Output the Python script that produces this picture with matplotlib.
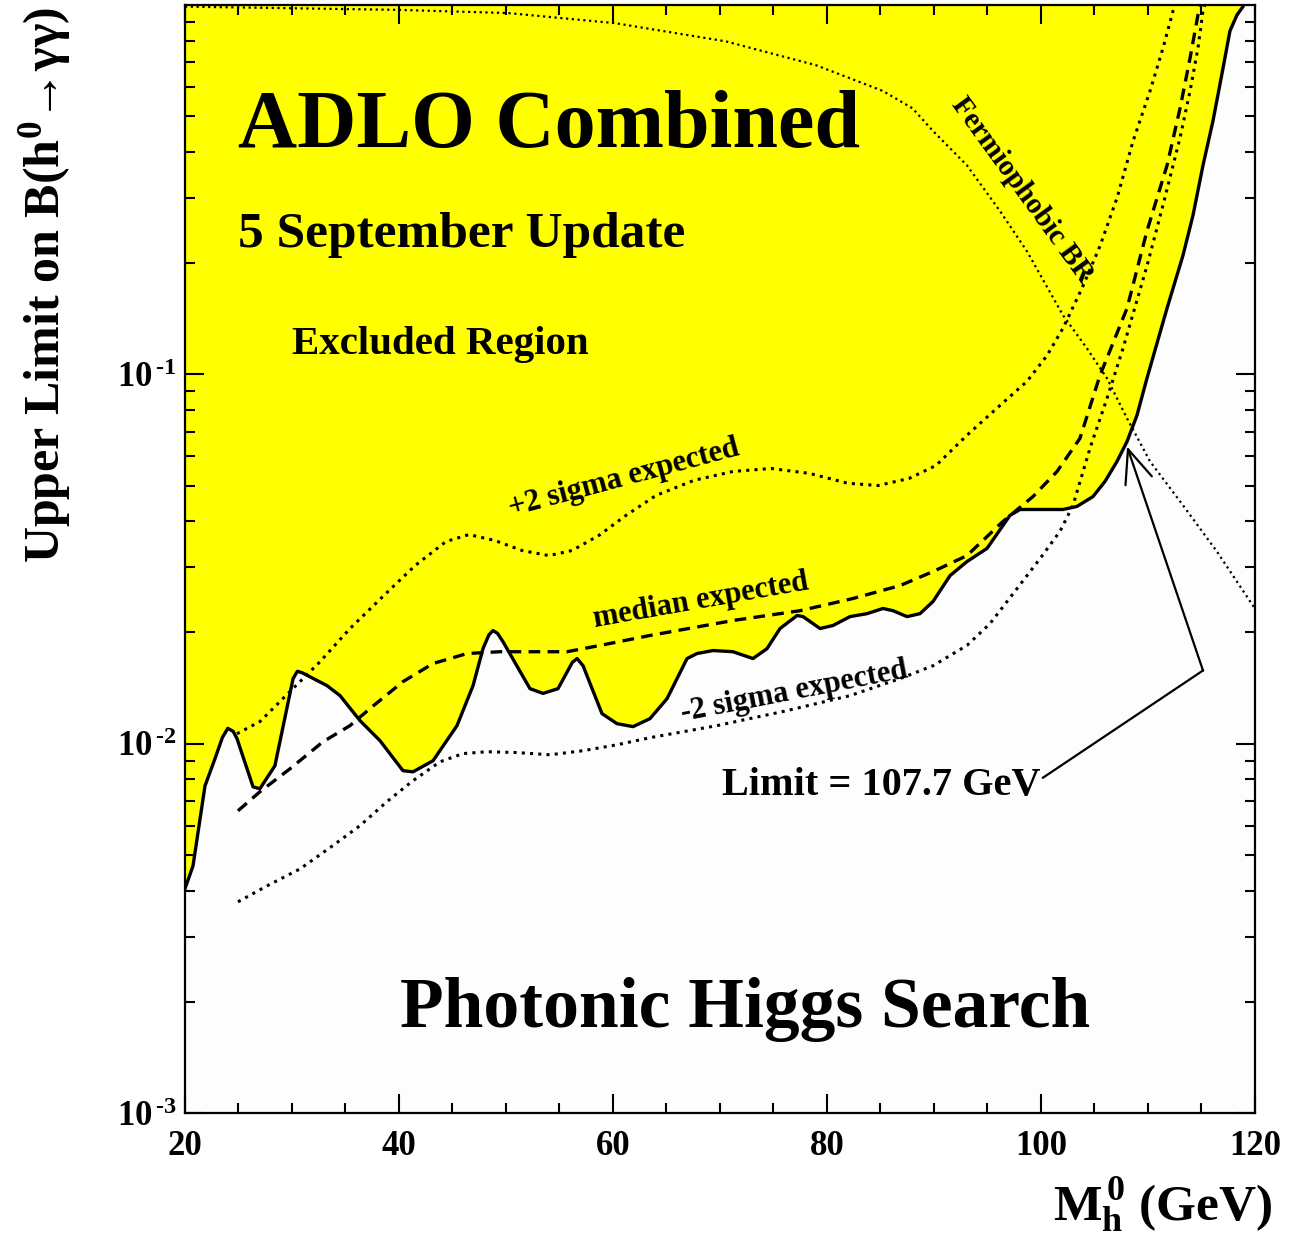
import matplotlib
matplotlib.use('Agg')
import matplotlib.pyplot as plt
from matplotlib.ticker import LogLocator, MultipleLocator, NullFormatter, FixedLocator, FixedFormatter

plt.rcParams['font.family'] = ['Liberation Serif', 'DejaVu Serif']
plt.rcParams['font.weight'] = 'bold'
plt.rcParams['mathtext.fontset'] = 'custom'
plt.rcParams['mathtext.rm'] = 'Liberation Serif:bold'
plt.rcParams['mathtext.bf'] = 'Liberation Serif:bold'
plt.rcParams['mathtext.it'] = 'Liberation Serif:bold:italic'
plt.rcParams['mathtext.default'] = 'bf'

# observed upper limit on B(h0 -> gamma gamma) vs Higgs mass (GeV)
obs_mass = [20.0, 20.75, 21.87, 22.8, 23.5, 24.0, 24.5, 24.86, 26.36, 27.0, 28.4, 30.1, 30.5, 30.93,
            33.27, 34.49, 36.36, 38.22, 40.37, 41.31, 43.18, 45.42, 46.92, 47.85, 48.4, 48.79,
            49.2, 49.72, 52.24, 53.46, 54.86, 56.2, 56.64, 57.2, 58.97, 60.37, 61.87, 63.46,
            65.05, 66.92, 67.85, 69.35, 71.21, 73.08, 74.39, 75.61, 77.2, 77.76, 79.35, 80.56,
            82.15, 83.74, 85.23, 86.17, 87.48, 88.69, 89.91, 91.5, 93.08, 94.95, 97.1, 98.04,
            100.19, 102.06, 103.36, 104.86, 105.98, 107.1, 108.04, 108.97, 109.9, 111.78, 113.27,
            114.21, 115.14, 116.07, 117.01, 117.66, 118.32, 118.88, 119.3]
obs_limit = [0.00405, 0.00467, 0.00769, 0.0091, 0.0104, 0.0110, 0.0108, 0.01032, 0.00764, 0.00755,
             0.00871, 0.0150, 0.0157, 0.01557, 0.01436, 0.01349, 0.01154, 0.01019, 0.00845,
             0.00839, 0.00899, 0.01119, 0.01436, 0.01808, 0.0197, 0.02024, 0.0199, 0.01888,
             0.01409, 0.01368, 0.01409, 0.0166, 0.0170, 0.01626, 0.01206, 0.01133, 0.01112,
             0.01169, 0.01324, 0.0170, 0.01754, 0.01787, 0.01774, 0.0170, 0.01808, 0.0205,
             0.02223, 0.02208, 0.0205, 0.02089, 0.02208, 0.02249, 0.02323, 0.02291, 0.02208,
             0.02249, 0.02427, 0.02851, 0.03112, 0.03377, 0.0415, 0.04306, 0.04306, 0.04306,
             0.04389, 0.04667, 0.05129, 0.05808, 0.06577, 0.07745, 0.0975, 0.151, 0.2099, 0.2698,
             0.368, 0.485, 0.674, 0.851, 0.94, 0.99, 1.1]

# median expected
med_mass = [24.95, 27.0, 29.81, 32.9, 35.42, 37.29, 40.37, 43.18, 46.36, 49.44, 52.52, 55.7, 58.79,
            63.46, 71.21, 77.48, 82.43, 86.82, 89.91, 93.08, 96.45, 99.25, 101.5, 103.64, 105.51,
            108.04, 109.9, 111.78, 113.0, 113.93, 114.67, 114.95]
med_limit = [0.00658, 0.00741, 0.00855, 0.01012, 0.01119, 0.01245, 0.01472, 0.01648, 0.01754,
             0.01774, 0.01774, 0.01774, 0.01845, 0.01963, 0.02155, 0.02291, 0.02472, 0.02679,
             0.02924, 0.0323, 0.03998, 0.04667, 0.05458, 0.0671, 0.0993, 0.151, 0.2443, 0.368,
             0.526, 0.718, 0.94, 1.0]

# +2 sigma expected
p2_mass = [24.86, 27.01, 29.81, 32.62, 35.42, 38.97, 41.5, 44.39, 46.54, 48.97, 51.5, 54.02, 56.17,
           58.69, 61.21, 64.02, 67.57, 71.21, 74.77, 78.32, 81.96, 84.77, 87.66, 90.19, 93.08,
           96.17, 98.69, 100.56, 102.06, 103.83, 105.51, 107.1, 108.6, 110.19, 111.4, 112.34, 112.6]
p2_limit = [0.01064, 0.01148, 0.01384, 0.01667, 0.0205, 0.02582, 0.03034, 0.03526, 0.03683,
            0.03548, 0.03334, 0.0323, 0.03334, 0.03664, 0.0415, 0.047, 0.05164, 0.05458, 0.0556,
            0.05395, 0.0507, 0.05, 0.05224, 0.05666, 0.0684, 0.0824, 0.0957, 0.1124, 0.1334,
            0.171, 0.2224, 0.300, 0.4276, 0.585, 0.764, 0.964, 1.0]

# -2 sigma expected
m2_mass = [24.95, 27.66, 30.75, 33.83, 36.36, 38.88, 41.31, 43.83, 45.98, 48.22, 51.03, 54.11, 57.2,
           60.37, 63.46, 69.72, 75.89, 82.15, 86.82, 89.91, 93.08, 95.23, 97.76, 99.91, 101.78,
           102.99, 104.58, 106.17, 107.66, 109.9, 111.4, 112.99, 113.93, 114.67, 115.14, 115.3]
m2_limit = [0.00373, 0.00412, 0.00458, 0.0053, 0.006, 0.00697, 0.00794, 0.00893, 0.0094, 0.00951,
            0.00946, 0.00933, 0.00957, 0.00993, 0.01038, 0.01119, 0.01222, 0.01349, 0.0150,
            0.01626, 0.01845, 0.02113, 0.0263, 0.0317, 0.0376, 0.0442, 0.0631, 0.0861, 0.1175,
            0.1963, 0.287, 0.4365, 0.585, 0.764, 0.964, 1.0]

# fermiophobic branching ratio
fp_mass = [20.0, 30.0, 40.0, 50.19, 60.19, 70.56, 78.97, 85.23, 88.0, 89.9, 93.08, 96.17, 98.69,
           102.06, 104.3, 106.17, 108.04, 110.19, 113.27, 116.45, 120.0]
fp_br = [0.99, 0.98, 0.97, 0.951, 0.893, 0.797, 0.687, 0.585, 0.525, 0.456, 0.368, 0.2767, 0.2153,
         0.1445, 0.1175, 0.0975, 0.076, 0.0581, 0.0442, 0.0331, 0.0232]

# arrow from the "Limit" label to the crossing point
arrow_mass = [100.19, 115.14, 108.04]
arrow_val = [0.00809, 0.01578, 0.0638]

x_ticks = [20, 40, 60, 80, 100, 120]
x_labels = ['20', '40', '60', '80', '100', '120']
y_ticks = [1e-3, 1e-2, 1e-1]
y_labels = [r'$10^{\,\text{-3}}$', r'$10^{\,\text{-2}}$', r'$10^{\,\text{-1}}$']

fig = plt.figure(figsize=(13, 12.34), dpi=100)
ax = fig.add_axes([185 / 1300, 121 / 1234, 1070 / 1300, 1108 / 1234])
ax.set_facecolor('#fdfdfd')
ax.set_yscale('log')
ax.set_xlim(20, 120)
ax.set_ylim(1e-3, 1.0)

ax.fill_between(obs_mass, obs_limit, 2.0, color='#ffff00', lw=0, zorder=1)
ax.plot(obs_mass, obs_limit, color='black', lw=2.4, zorder=4, solid_joinstyle='round')
ax.plot(med_mass, med_limit, color='black', lw=2.4, dashes=(3.5, 2.2), zorder=3)
ax.plot(p2_mass, p2_limit, color='black', lw=2.2, dashes=(1, 1.7), zorder=3)
ax.plot(m2_mass, m2_limit, color='black', lw=2.2, dashes=(1, 1.7), zorder=3)
ax.plot(fp_mass, fp_br, color='black', lw=1.6, dashes=(1, 1.6), zorder=3)

ax.plot(arrow_mass[:2], arrow_val[:2], color='black', lw=1.6, zorder=5)
ax.annotate('', xy=(arrow_mass[2], arrow_val[2]), xytext=(arrow_mass[1], arrow_val[1]),
            arrowprops=dict(arrowstyle='->,head_length=0.6,head_width=0.25', lw=1.6,
                            color='black', shrinkA=0, shrinkB=0, mutation_scale=40), zorder=5)

# ticks
ax.xaxis.set_major_locator(FixedLocator(x_ticks))
ax.xaxis.set_major_formatter(FixedFormatter(x_labels))
ax.xaxis.set_minor_locator(MultipleLocator(5))
ax.yaxis.set_major_locator(FixedLocator(y_ticks))
ax.yaxis.set_major_formatter(FixedFormatter(y_labels))
ax.yaxis.set_minor_locator(LogLocator(base=10, subs=range(2, 10)))
ax.yaxis.set_minor_formatter(NullFormatter())
ax.tick_params(which='both', direction='in', top=True, right=True, width=1.5, labelsize=25)
ax.tick_params(which='major', length=14)
ax.tick_params(which='minor', length=7)
ax.tick_params(axis='x', pad=12)
ax.tick_params(axis='y', pad=6)
for s in ax.spines.values():
    s.set_linewidth(1.6)
    s.set_zorder(6)

# texts
ax.text(0.0495, 0.872, 'ADLO Combined', transform=ax.transAxes, fontsize=59,
        ha='left', va='baseline')
ax.text(0.0495, 0.7816, '5 September Update', transform=ax.transAxes, fontsize=37,
        ha='left', va='baseline')
ax.text(0.10, 0.685, 'Excluded Region', transform=ax.transAxes, fontsize=29.5,
        ha='left', va='baseline')
ax.text(0.201, 0.0776, 'Photonic Higgs Search', transform=ax.transAxes, fontsize=51.5,
        ha='left', va='baseline')
ax.text(0.502, 0.287, 'Limit = 107.7 GeV', transform=ax.transAxes, fontsize=29,
        ha='left', va='baseline', zorder=6)
ax.text(0.410, 0.573, '+2 sigma expected', transform=ax.transAxes, fontsize=22,
        rotation=15, rotation_mode='anchor', ha='center', va='center')
ax.text(0.482, 0.462, 'median expected', transform=ax.transAxes, fontsize=22,
        rotation=10, rotation_mode='anchor', ha='center', va='center')
ax.text(0.569, 0.380, '-2 sigma expected', transform=ax.transAxes, fontsize=22,
        rotation=11, rotation_mode='anchor', ha='center', va='center')
ax.text(0.782, 0.833, 'Fermiophobic BR', transform=ax.transAxes, fontsize=21,
        rotation=-54, rotation_mode='anchor', ha='center', va='center')

ax.text(-0.1308, 0.747, r'Upper Limit on B(h$^{0}$→γγ)', transform=ax.transAxes,
        fontsize=36, rotation=90, ha='center', va='center')
ax.text(1.0159, -0.083, r'M$_{h}^{\,0}$ (GeV)', transform=ax.transAxes,
        fontsize=37, ha='right', va='center')

fig.savefig('out.png', dpi=100, facecolor='white')
